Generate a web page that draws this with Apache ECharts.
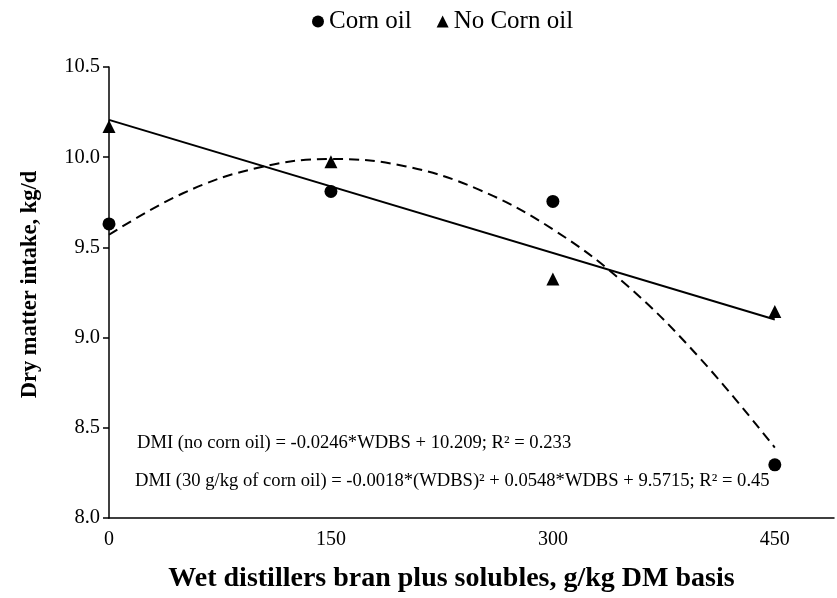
<!DOCTYPE html>
<html>
<head>
<meta charset="utf-8">
<script src="https://cdn.jsdelivr.net/npm/echarts@6/dist/echarts.min.js"></script>
<style>html,body{margin:0;padding:0;background:#fff;}#c{width:837px;height:598px;}</style>
</head>
<body>
<div id="c"></div>
<script>
// Data
var wdbsLevels = [0, 150, 300, 450];
var cornOil = [9.63, 9.81, 9.755, 8.295];
var noCornOil = [10.17, 9.975, 9.325, 9.145];
var linearTrendX = [0, 450];
var linearTrend = [10.207, 9.10];
var quadTrendX = [0, 50, 100, 150, 200, 250, 300, 350, 400, 450];
var quadTrend = [9.57, 9.80, 9.94, 9.99, 9.95, 9.82, 9.60, 9.29, 8.88, 8.39];
var yTicks = [8.0, 8.5, 9.0, 9.5, 10.0, 10.5];
var xTicks = [0, 150, 300, 450];
var eqLinear = 'DMI (no corn oil) = -0.0246*WDBS + 10.209; R² = 0.233';
var eqQuad = 'DMI (30 g/kg of corn oil) = -0.0018*(WDBS)² + 0.0548*WDBS + 9.5715; R² = 0.45';

function pairs(xs, ys) { return xs.map(function (x, i) { return [x, ys[i]]; }); }

var font = '"Liberation Serif", "Times New Roman", serif';
var chart = echarts.init(document.getElementById('c'));
chart.setOption({
  animation: false,
  backgroundColor: '#fff',
  textStyle: { fontFamily: font, color: '#000' },
  legend: {
    left: 307, top: 4,
    itemWidth: 12, itemHeight: 12, itemGap: 25,
    textStyle: { fontFamily: font, fontSize: 25, color: '#000' },
    itemStyle: { opacity: 1 },
    data: [
      { name: 'Corn oil', icon: 'circle' },
      { name: 'No Corn oil', icon: 'triangle' }
    ]
  },
  grid: { left: 109, right: 2, top: 67, bottom: 79 },
  xAxis: {
    type: 'value', min: 0, max: 490, interval: 150,
    name: 'Wet distillers bran plus solubles, g/kg DM basis',
    nameLocation: 'middle', nameGap: 47,
    nameTextStyle: { fontFamily: font, fontSize: 28, fontWeight: 'bold', color: '#000', padding: [0, 40, 0, 0] },
    axisLine: { show: true, lineStyle: { color: '#000', width: 1.5 } },
    axisTick: { show: false },
    splitLine: { show: false },
    axisLabel: {
      fontFamily: font, fontSize: 20, color: '#000', margin: 12,
      formatter: function (v) { return xTicks.indexOf(v) >= 0 ? String(v) : ''; }
    }
  },
  yAxis: {
    type: 'value', min: 8, max: 10.5, interval: 0.5,
    name: 'Dry matter intake, kg/d',
    nameLocation: 'middle', nameGap: 67,
    nameTextStyle: { fontFamily: font, fontSize: 22.5, fontWeight: 'bold', color: '#000', padding: [0, 0, 0, 16] },
    axisLine: { show: true, onZero: false, lineStyle: { color: '#000', width: 1.5 } },
    axisTick: { show: true, inside: false, length: 6, lineStyle: { color: '#000', width: 1.5 } },
    splitLine: { show: false },
    axisLabel: {
      fontFamily: font, fontSize: 20.5, color: '#000', margin: 9,
      formatter: function (v) { return v.toFixed(1); }
    }
  },
  graphic: [
    { type: 'text', left: 137, top: 434, style: { text: eqLinear, font: '18.6px ' + font, fill: '#000' } },
    { type: 'text', left: 135, top: 472, style: { text: eqQuad, font: '18.6px ' + font, fill: '#000' } }
  ],
  series: [
    {
      name: 'linear', type: 'line', data: pairs(linearTrendX, linearTrend),
      showSymbol: false, symbol: 'none', silent: true,
      lineStyle: { color: '#000', width: 2 }, z: 2
    },
    {
      name: 'quadratic', type: 'line', data: pairs(quadTrendX, quadTrend),
      showSymbol: false, symbol: 'none', smooth: 0.4, silent: true,
      lineStyle: { color: '#000', width: 2, type: [10, 6] }, z: 2
    },
    {
      name: 'Corn oil', type: 'scatter', data: pairs(wdbsLevels, cornOil),
      symbol: 'circle', symbolSize: 13, itemStyle: { color: '#000', opacity: 1 }, z: 3
    },
    {
      name: 'No Corn oil', type: 'scatter', data: pairs(wdbsLevels, noCornOil),
      symbol: 'triangle', symbolSize: 13, itemStyle: { color: '#000', opacity: 1 }, z: 3
    }
  ]
});
</script>
</body>
</html>
